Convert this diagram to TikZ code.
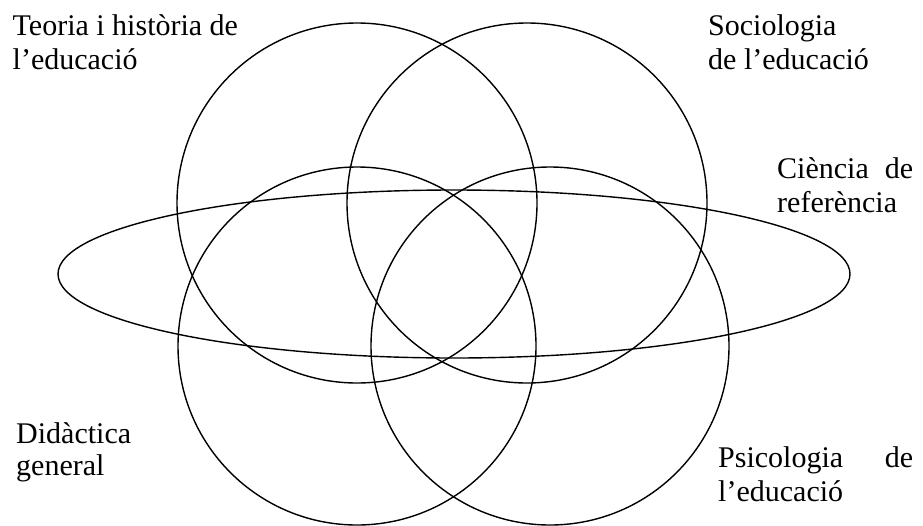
\documentclass[tikz,border=0pt]{standalone}
\usepackage{fontspec}
\setmainfont{Liberation Serif}
\usepackage{tikz}
\usetikzlibrary{positioning}

\begin{document}
\begin{tikzpicture}[
  x=1pt,y=-1pt,
  ring/.style={draw,line width=1.4pt},
  lbl/.style={anchor=base west,inner sep=0pt,font=\fontsize{30}{34}\selectfont},
]
  \useasboundingbox (0,0) rectangle (923,525);

  % the four fields and the reference science
  \draw[ring] (357,203) circle[radius=180];
  \draw[ring] (527,203) circle[radius=180];
  \draw[ring] (357,346) circle[radius=179];
  \draw[ring] (550,346) circle[radius=179];
  \draw[ring] (454,274) ellipse[x radius=396,y radius=84];

  \node[lbl] (teo1) at (12.5,35.5) {Teoria i història de};
  \node[lbl] (teo2) at (12.5,69) {l’educació};

  \node[lbl] (soc1) at (708,35.5) {Sociologia};
  \node[lbl] (soc2) at (708,69) {de l’educació};

  \node[lbl] (cie1) at (777,178) {\makebox[136pt][l]{Ciència\hfill de}};
  \node[lbl] (cie2) at (777,212) {referència};

  \node[lbl] (did1) at (16,443) {Didàctica};
  \node[lbl] (did2) at (16,475) {general};

  \node[lbl] (psi1) at (718,467) {\makebox[195pt][l]{Psicologia\hfill de}};
  \node[lbl] (psi2) at (718,501) {l’educació};
\end{tikzpicture}
\end{document}
